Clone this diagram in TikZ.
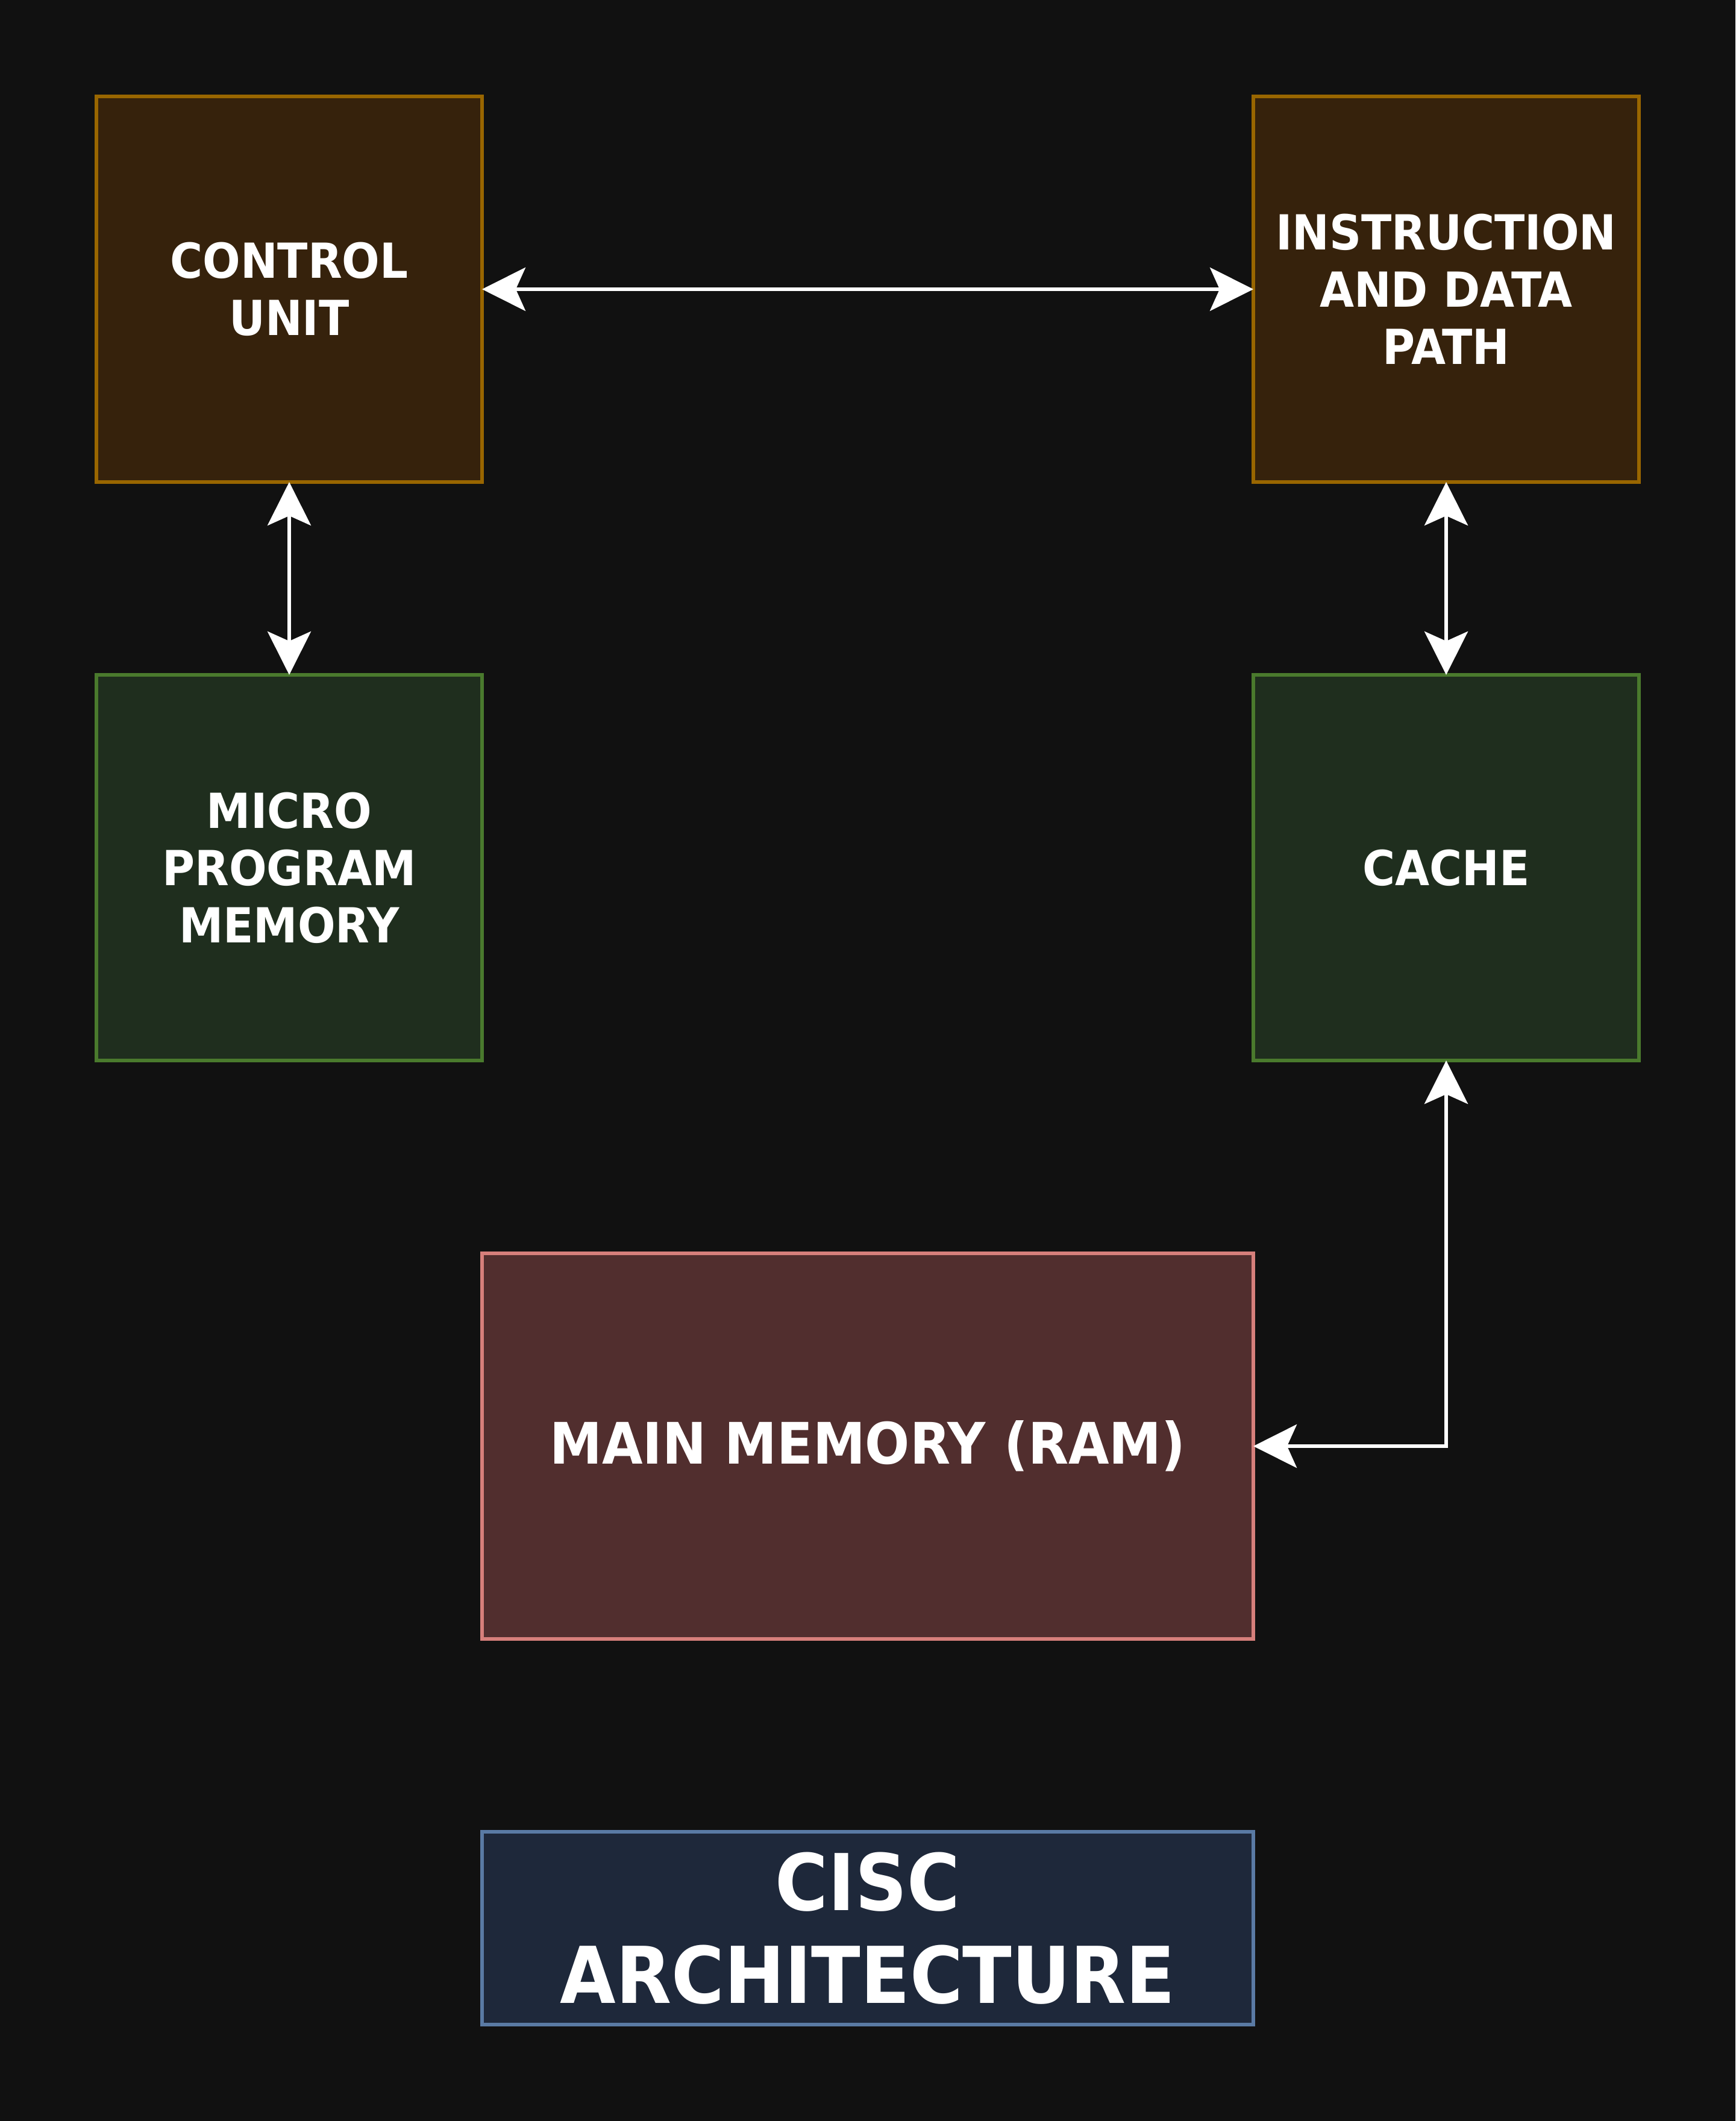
\documentclass[tikz,border=0pt]{standalone}
\usepackage{fontspec}
\setmainfont{DejaVu Sans}[FakeStretch=0.92]
\usetikzlibrary{arrows.meta}
\definecolor{bgc}{HTML}{111111}
\definecolor{brownfill}{HTML}{36220C}
\definecolor{brownline}{HTML}{996600}
\definecolor{greenfill}{HTML}{1F2E1E}
\definecolor{greenline}{HTML}{4A7A2D}
\definecolor{redfill}{HTML}{512E2E}
\definecolor{redline}{HTML}{D67F7B}
\definecolor{bluefill}{HTML}{1E283A}
\definecolor{blueline}{HTML}{5A7AA4}
\tikzset{
  boxbase/.style={draw, line width=0.06cm, inner sep=0pt, outer sep=0pt, align=center, text=white, font=\bfseries\fontsize{22.8}{27}\selectfont},
  sqbox/.style={boxbase, minimum width=6.4cm, minimum height=6.4cm},
  brownbox/.style={sqbox, fill=brownfill, draw=brownline},
  greenbox/.style={sqbox, fill=greenfill, draw=greenline},
  membox/.style={boxbase, fill=redfill, draw=redline, minimum width=12.8cm, minimum height=6.4cm, font=\bfseries\fontsize{27}{32}\selectfont},
  titlebox/.style={boxbase, fill=bluefill, draw=blueline, minimum width=12.8cm, minimum height=3.2cm, font=\bfseries\fontsize{37}{43.8}\selectfont},
  conn/.style={draw=white, line width=0.06cm, {Stealth[length=0.72cm,width=0.72cm,inset=0.16cm]}-{Stealth[length=0.72cm,width=0.72cm,inset=0.16cm]}}
}
\begin{document}
\begin{tikzpicture}
\fill[bgc] (0,0) rectangle (28.8,-35.2);
\useasboundingbox (0,0) rectangle (28.8,-35.2);
\node[brownbox] (cu) at (4.8,-4.8) {CONTROL\\UNIT};
\node[brownbox] (idp) at (24.0,-4.8) {INSTRUCTION\\AND DATA\\PATH};
\node[greenbox] (mpm) at (4.8,-14.4) {MICRO\\PROGRAM\\MEMORY};
\node[greenbox] (cache) at (24.0,-14.4) {CACHE};
\node[membox] (mm) at (14.4,-24.0) {MAIN MEMORY (RAM)};
\node[titlebox] (title) at (14.4,-32.0) {CISC\\ARCHITECTURE};
\draw[conn] (cu.east) -- (idp.west);
\draw[conn] (cu.south) -- (mpm.north);
\draw[conn] (idp.south) -- (cache.north);
\draw[conn] (cache.south) |- (mm.east);
\end{tikzpicture}
\end{document}
